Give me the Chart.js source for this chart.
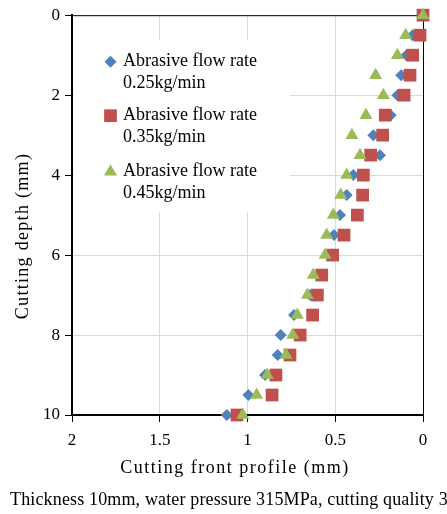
<!DOCTYPE html>
<html>
<head>
<meta charset="utf-8">
<script src="https://cdn.jsdelivr.net/npm/chart.js@4.4.1/dist/chart.umd.min.js"></script>
<style>
  body { margin: 0; background: #fff; }
  #wrap { width: 447px; height: 514px; position: relative; }
</style>
</head>
<body>
<div id="wrap"><canvas id="grafico"></canvas></div>
<script>
// profundidade de corte (mm), um ponto a cada 0.5 mm
const profundidade = [0, 0.5, 1, 1.5, 2, 2.5, 3, 3.5, 4, 4.5, 5, 5.5, 6, 6.5, 7, 7.5, 8, 8.5, 9, 9.5, 10];

// perfil da frente de corte (mm) para cada vazão de abrasivo
const vazao025 = [0, 0.06, 0.095, 0.124, 0.146, 0.184, 0.283, 0.245, 0.397, 0.435, 0.473, 0.507, 0.52, 0.58, 0.644, 0.735, 0.811, 0.828, 0.90, 0.995, 1.118];
const vazao035 = [0, 0.017, 0.059, 0.074, 0.108, 0.215, 0.23, 0.298, 0.34, 0.344, 0.374, 0.45, 0.515, 0.577, 0.602, 0.629, 0.70, 0.758, 0.838, 0.86, 1.06];
const vazao045 = [0, 0.099, 0.146, 0.27, 0.226, 0.325, 0.405, 0.359, 0.435, 0.469, 0.511, 0.549, 0.558, 0.625, 0.659, 0.716, 0.742, 0.78, 0.887, 0.948, 1.027];

const nomesSeries = [
    ['Abrasive flow rate', '0.25kg/min'],
    ['Abrasive flow rate', '0.35kg/min'],
    ['Abrasive flow rate', '0.45kg/min']
];
const tituloX = 'Cutting front profile (mm)';
const tituloY = 'Cutting depth (mm)';
const legenda = 'Thickness 10mm, water pressure 315MPa, cutting quality 3';

const cores = ['#4F81BD', '#C0504D', '#9BBB59'];
const estilos = [
    { pointStyle: 'rectRot', radius: 6 },
    { pointStyle: 'rect', radius: 9 },
    { pointStyle: 'triangle', radius: 7.5 }
];
const FONTE = '"Liberation Serif", "Times New Roman", serif';

function pontos(valores) {
    return valores.map((v, i) => ({ x: v, y: profundidade[i] }));
}

// moldura, legenda interna e títulos
const extras = {
    id: 'extras',
    beforeDatasetsDraw(chart) {
        const { ctx, chartArea: a } = chart;
        ctx.save();
        // borda superior e direita
        ctx.strokeStyle = '#000';
        ctx.lineWidth = 1;
        ctx.beginPath();
        ctx.moveTo(a.left, a.top + 0.5);
        ctx.lineTo(a.right + 0.5, a.top + 0.5);
        ctx.lineTo(a.right + 0.5, a.bottom);
        ctx.stroke();

        // caixa da legenda
        ctx.fillStyle = '#fff';
        ctx.fillRect(a.left + 2, 40, 290 - a.left - 2, 172);
        const ys = [61.7, 115.7, 171.7];
        ctx.font = '18px ' + FONTE;
        ctx.textBaseline = 'middle';
        ctx.textAlign = 'left';
        nomesSeries.forEach((linhas, i) => {
            ctx.fillStyle = cores[i];
            Chart.helpers.drawPoint(ctx, { pointStyle: estilos[i].pointStyle, radius: estilos[i].radius, borderWidth: 0, rotation: 0 }, 110.5, ys[i]);
            ctx.fillStyle = '#000';
            ctx.fillText(linhas[0], 123, ys[i]);
            ctx.fillText(linhas[1], 123, ys[i] + 21.6);
        });
        ctx.restore();
    },
    afterDraw(chart) {
        const { ctx } = chart;
        ctx.save();
        ctx.fillStyle = '#000';
        ctx.textBaseline = 'middle';
        ctx.textAlign = 'center';
        ctx.font = '18px ' + FONTE;
        ctx.letterSpacing = '1.5px';
        ctx.fillText(tituloX, 235, 468);
        ctx.letterSpacing = '1.3px';
        ctx.translate(23, 236);
        ctx.rotate(-Math.PI / 2);
        ctx.fillText(tituloY, 0, 0);
        ctx.restore();

        ctx.save();
        ctx.fillStyle = '#000';
        ctx.textBaseline = 'middle';
        ctx.textAlign = 'left';
        ctx.font = '18px ' + FONTE;
        ctx.letterSpacing = '0.15px';
        ctx.fillText(legenda, 10, 500);
        ctx.restore();
    }
};

const formatoTick = (v) => String(Number(v));

const ctx = document.getElementById('grafico').getContext('2d');
new Chart(ctx, {
    type: 'scatter',
    data: {
        datasets: [vazao025, vazao035, vazao045].map((serie, i) => ({
            label: nomesSeries[i].join(' '),
            data: pontos(serie),
            backgroundColor: cores[i],
            borderColor: cores[i],
            borderWidth: 0,
            pointStyle: estilos[i].pointStyle,
            pointRadius: estilos[i].radius,
            pointHoverRadius: estilos[i].radius,
            order: 2 - i,
            clip: false
        }))
    },
    options: {
        responsive: true,
        maintainAspectRatio: false,
        animation: false,
        layout: { padding: { top: 15, right: 24, bottom: 0, left: 0 } },
        plugins: {
            legend: { display: false },
            tooltip: { enabled: false }
        },
        scales: {
            x: {
                type: 'linear',
                reverse: true,
                min: 0,
                max: 2,
                afterFit: (s) => { s.height = 99; },
                ticks: { stepSize: 0.5, color: '#000', padding: 8, font: { family: FONTE, size: 17 }, callback: formatoTick },
                grid: { color: '#d9d9d9', tickColor: '#000', tickLength: 7 },
                border: { display: true, color: '#000', width: 2 }
            },
            y: {
                type: 'linear',
                reverse: true,
                min: 0,
                max: 10,
                afterFit: (s) => { s.width = 72; },
                ticks: { stepSize: 2, color: '#000', padding: 5, font: { family: FONTE, size: 17 }, callback: formatoTick },
                grid: { color: '#d9d9d9', tickColor: '#000', tickLength: 7 },
                border: { display: true, color: '#000', width: 2 }
            }
        }
    },
    plugins: [extras]
});
</script>
</body>
</html>
